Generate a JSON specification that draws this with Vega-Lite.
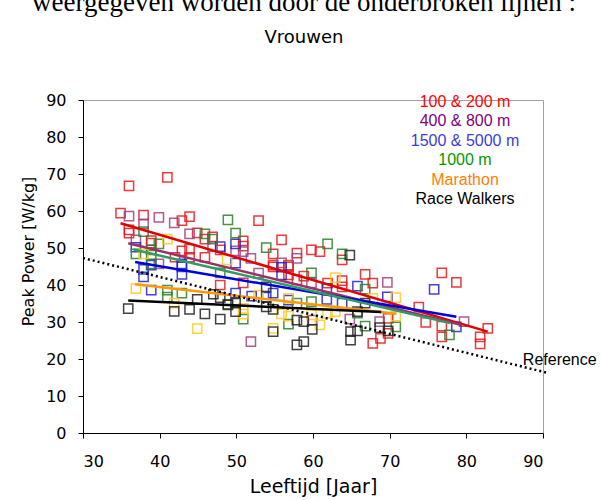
{
  "$schema": "https://vega.github.io/schema/vega-lite/v6.json",
  "width": 460,
  "height": 333,
  "autosize": {"type": "none"},
  "padding": {"left": 83, "top": 100, "right": 58, "bottom": 67},
  "background": "white",
  "title": {
    "text": "weergegeven worden door de onderbroken lijnen :",
    "subtitle": "Vrouwen",
    "anchor": "middle",
    "frame": "group",
    "offset": 44,
    "dx": -9,
    "font": "Liberation Serif",
    "fontSize": 27,
    "fontWeight": "normal",
    "color": "#000000",
    "subtitleFont": "DejaVu Sans",
    "subtitleFontSize": 18,
    "subtitleColor": "#000000",
    "subtitlePadding": 12
  },
  "config": {
    "title": {"color": "#000000", "subtitleColor": "#000000"},
    "view": {"stroke": "#A0A0A0", "strokeWidth": 1},
    "axis": {
      "grid": false,
      "domainColor": "black",
      "tickColor": "black",
      "tickSize": 5,
      "labelFont": "DejaVu Sans",
      "labelFontSize": 16,
      "labelColor": "black",
      "labelOverlap": false,
      "titleFont": "DejaVu Sans",
      "titleFontSize": 16,
      "titleFontWeight": "normal",
      "titleColor": "black"
    }
  },
  "datasets": {
    "points": [
      {"group":"100 & 200 m","age":41.0,"power":69.1},{"group":"100 & 200 m","age":36.0,"power":66.8},{"group":"100 & 200 m","age":34.9,"power":59.4},{"group":"100 & 200 m","age":37.9,"power":58.9},{"group":"100 & 200 m","age":42.9,"power":57.4},{"group":"100 & 200 m","age":43.9,"power":58.5},{"group":"100 & 200 m","age":36.0,"power":54.9},{"group":"100 & 200 m","age":36.0,"power":54.0},{"group":"100 & 200 m","age":44.9,"power":54.1},{"group":"100 & 200 m","age":45.9,"power":52.4},{"group":"100 & 200 m","age":46.9,"power":53.0},{"group":"100 & 200 m","age":38.9,"power":52.0},{"group":"100 & 200 m","age":38.9,"power":51.3},{"group":"100 & 200 m","age":47.9,"power":49.5},{"group":"100 & 200 m","age":42.9,"power":49.2},{"group":"100 & 200 m","age":43.9,"power":49.7},{"group":"100 & 200 m","age":42.0,"power":47.5},{"group":"100 & 200 m","age":43.9,"power":47.5},{"group":"100 & 200 m","age":45.9,"power":47.5},{"group":"100 & 200 m","age":52.9,"power":57.4},{"group":"100 & 200 m","age":50.9,"power":51.9},{"group":"100 & 200 m","age":50.9,"power":50.5},{"group":"100 & 200 m","age":55.9,"power":52.2},{"group":"100 & 200 m","age":54.8,"power":48.4},{"group":"100 & 200 m","age":57.9,"power":48.6},{"group":"100 & 200 m","age":59.8,"power":49.5},{"group":"100 & 200 m","age":60.9,"power":49.0},{"group":"100 & 200 m","age":63.8,"power":46.8},{"group":"100 & 200 m","age":56.8,"power":45.4},{"group":"100 & 200 m","age":54.8,"power":45.4},{"group":"100 & 200 m","age":54.8,"power":44.9},{"group":"100 & 200 m","age":56.8,"power":44.9},{"group":"100 & 200 m","age":56.8,"power":42.7},{"group":"100 & 200 m","age":57.9,"power":41.4},{"group":"100 & 200 m","age":58.8,"power":42.4},{"group":"100 & 200 m","age":50.9,"power":40.6},{"group":"100 & 200 m","age":47.9,"power":40.0},{"group":"100 & 200 m","age":61.9,"power":40.5},{"group":"100 & 200 m","age":63.8,"power":41.2},{"group":"100 & 200 m","age":63.8,"power":39.5},{"group":"100 & 200 m","age":66.8,"power":42.9},{"group":"100 & 200 m","age":67.8,"power":40.5},{"group":"100 & 200 m","age":76.8,"power":43.3},{"group":"100 & 200 m","age":78.7,"power":40.7},{"group":"100 & 200 m","age":73.8,"power":34.0},{"group":"100 & 200 m","age":74.7,"power":29.9},{"group":"100 & 200 m","age":76.8,"power":28.9},{"group":"100 & 200 m","age":82.8,"power":28.3},{"group":"100 & 200 m","age":81.8,"power":26.0},{"group":"100 & 200 m","age":81.8,"power":24.1},{"group":"100 & 200 m","age":76.8,"power":26.0},{"group":"100 & 200 m","age":67.8,"power":24.2},{"group":"100 & 200 m","age":68.8,"power":25.6},{"group":"100 & 200 m","age":69.8,"power":31.0},{"group":"100 & 200 m","age":69.8,"power":26.9},
      {"group":"400 & 800 m","age":36.0,"power":58.6},{"group":"400 & 800 m","age":39.9,"power":58.3},{"group":"400 & 800 m","age":41.9,"power":56.8},{"group":"400 & 800 m","age":37.9,"power":56.5},{"group":"400 & 800 m","age":43.9,"power":53.8},{"group":"400 & 800 m","age":36.9,"power":52.2},{"group":"400 & 800 m","age":46.9,"power":50.4},{"group":"400 & 800 m","age":39.9,"power":45.7},{"group":"400 & 800 m","age":49.9,"power":49.2},{"group":"400 & 800 m","age":50.9,"power":49.0},{"group":"400 & 800 m","age":51.9,"power":47.2},{"group":"400 & 800 m","age":55.9,"power":46.0},{"group":"400 & 800 m","age":57.9,"power":47.2},{"group":"400 & 800 m","age":52.9,"power":43.2},{"group":"400 & 800 m","age":59.8,"power":40.6},{"group":"400 & 800 m","age":69.7,"power":40.7},{"group":"400 & 800 m","age":64.8,"power":30.8},{"group":"400 & 800 m","age":68.7,"power":30.1},{"group":"400 & 800 m","age":79.7,"power":30.1},{"group":"400 & 800 m","age":59.9,"power":30.5},{"group":"400 & 800 m","age":51.9,"power":24.7},
      {"group":"1500 & 5000 m","age":47.9,"power":50.4},{"group":"1500 & 5000 m","age":36.9,"power":50.2},{"group":"1500 & 5000 m","age":42.9,"power":45.7},{"group":"1500 & 5000 m","age":49.9,"power":51.1},{"group":"1500 & 5000 m","age":49.9,"power":45.9},{"group":"1500 & 5000 m","age":38.9,"power":45.4},{"group":"1500 & 5000 m","age":37.9,"power":44.2},{"group":"1500 & 5000 m","age":37.9,"power":42.2},{"group":"1500 & 5000 m","age":42.9,"power":44.9},{"group":"1500 & 5000 m","age":42.9,"power":42.9},{"group":"1500 & 5000 m","age":38.9,"power":38.6},{"group":"1500 & 5000 m","age":55.9,"power":44.8},{"group":"1500 & 5000 m","age":55.9,"power":42.7},{"group":"1500 & 5000 m","age":49.9,"power":37.8},{"group":"1500 & 5000 m","age":52.0,"power":37.0},{"group":"1500 & 5000 m","age":53.9,"power":36.7},{"group":"1500 & 5000 m","age":54.8,"power":37.8},{"group":"1500 & 5000 m","age":56.8,"power":35.9},{"group":"1500 & 5000 m","age":61.8,"power":39.1},{"group":"1500 & 5000 m","age":61.8,"power":36.1},{"group":"1500 & 5000 m","age":63.8,"power":35.1},{"group":"1500 & 5000 m","age":65.8,"power":39.7},{"group":"1500 & 5000 m","age":69.7,"power":36.8},{"group":"1500 & 5000 m","age":75.8,"power":38.8},{"group":"1500 & 5000 m","age":78.7,"power":28.7},
      {"group":"1000 m","age":48.9,"power":57.6},{"group":"1000 m","age":37.9,"power":54.4},{"group":"1000 m","age":45.9,"power":53.8},{"group":"1000 m","age":46.9,"power":52.4},{"group":"1000 m","age":39.9,"power":51.1},{"group":"1000 m","age":38.9,"power":49.5},{"group":"1000 m","age":36.9,"power":48.4},{"group":"1000 m","age":38.9,"power":48.1},{"group":"1000 m","age":38.9,"power":45.7},{"group":"1000 m","age":49.9,"power":54.0},{"group":"1000 m","age":53.9,"power":50.1},{"group":"1000 m","age":61.9,"power":51.1},{"group":"1000 m","age":63.8,"power":48.4},{"group":"1000 m","age":59.8,"power":43.3},{"group":"1000 m","age":47.9,"power":43.3},{"group":"1000 m","age":41.0,"power":38.6},{"group":"1000 m","age":41.0,"power":36.7},{"group":"1000 m","age":42.9,"power":37.8},{"group":"1000 m","age":48.9,"power":34.8},{"group":"1000 m","age":50.9,"power":30.8},{"group":"1000 m","age":56.8,"power":29.4},{"group":"1000 m","age":57.9,"power":35.1},{"group":"1000 m","age":59.8,"power":35.5},{"group":"1000 m","age":66.8,"power":38.9},{"group":"1000 m","age":66.8,"power":28.9},{"group":"1000 m","age":70.8,"power":28.7},{"group":"1000 m","age":77.8,"power":26.5},{"group":"1000 m","age":65.8,"power":32.4},
      {"group":"Marathon","age":41.0,"power":52.4},{"group":"Marathon","age":37.9,"power":48.4},{"group":"Marathon","age":48.8,"power":46.8},{"group":"Marathon","age":36.9,"power":39.0},{"group":"Marathon","age":41.9,"power":35.1},{"group":"Marathon","age":44.9,"power":28.2},{"group":"Marathon","age":52.9,"power":37.3},{"group":"Marathon","age":50.9,"power":33.7},{"group":"Marathon","age":50.9,"power":32.1},{"group":"Marathon","age":56.8,"power":36.4},{"group":"Marathon","age":55.9,"power":32.2},{"group":"Marathon","age":56.8,"power":31.6},{"group":"Marathon","age":54.8,"power":28.3},{"group":"Marathon","age":60.9,"power":29.2},{"group":"Marathon","age":61.9,"power":32.4},{"group":"Marathon","age":62.9,"power":32.8},{"group":"Marathon","age":62.9,"power":42.0},{"group":"Marathon","age":59.8,"power":31.9},{"group":"Marathon","age":67.8,"power":36.4},{"group":"Marathon","age":70.8,"power":36.6},{"group":"Marathon","age":70.8,"power":31.6},
      {"group":"Race Walkers","age":35.9,"power":33.6},{"group":"Race Walkers","age":41.9,"power":32.9},{"group":"Race Walkers","age":43.9,"power":33.4},{"group":"Race Walkers","age":45.9,"power":32.2},{"group":"Race Walkers","age":47.9,"power":30.8},{"group":"Race Walkers","age":44.9,"power":36.1},{"group":"Race Walkers","age":47.0,"power":37.5},{"group":"Race Walkers","age":47.9,"power":36.6},{"group":"Race Walkers","age":49.9,"power":35.1},{"group":"Race Walkers","age":48.9,"power":34.6},{"group":"Race Walkers","age":49.9,"power":32.8},{"group":"Race Walkers","age":53.9,"power":39.5},{"group":"Race Walkers","age":53.9,"power":34.1},{"group":"Race Walkers","age":54.8,"power":33.4},{"group":"Race Walkers","age":54.8,"power":27.4},{"group":"Race Walkers","age":57.9,"power":30.5},{"group":"Race Walkers","age":58.8,"power":30.1},{"group":"Race Walkers","age":59.9,"power":28.0},{"group":"Race Walkers","age":57.9,"power":23.8},{"group":"Race Walkers","age":58.8,"power":24.7},{"group":"Race Walkers","age":64.9,"power":27.4},{"group":"Race Walkers","age":64.9,"power":25.1},{"group":"Race Walkers","age":64.8,"power":48.1},{"group":"Race Walkers","age":66.8,"power":35.1},{"group":"Race Walkers","age":65.8,"power":32.8},{"group":"Race Walkers","age":65.8,"power":27.6},{"group":"Race Walkers","age":68.7,"power":28.5},{"group":"Race Walkers","age":69.8,"power":27.6}
    ],
    "fits": [
      {"series":"100 & 200 m","age":34.9,"power":56.7},{"series":"100 & 200 m","age":82.8,"power":27.4},
      {"series":"400 & 800 m","age":35.9,"power":51.3},{"series":"400 & 800 m","age":79.4,"power":29.2},
      {"series":"1500 & 5000 m","age":36.8,"power":46.2},{"series":"1500 & 5000 m","age":78.7,"power":31.4},
      {"series":"1000 m","age":36.6,"power":49.6},{"series":"1000 m","age":77.9,"power":29.7},
      {"series":"Marathon","age":36.8,"power":40.2},{"series":"Marathon","age":70.9,"power":32.2},
      {"series":"Race Walkers","age":35.9,"power":35.8},{"series":"Race Walkers","age":68.9,"power":32.7}
    ],
    "reference": [
      {"age":30,"power":47.3,"label":""},
      {"age":90.5,"power":16.3,"label":"Reference"}
    ]
  },
  "layer": [
    {
      "data": {"name": "points"},
      "mark": {"type": "square", "filled": false, "size": 85, "strokeWidth": 1.5, "opacity": 0.85},
      "encoding": {
        "x": {"field": "age", "type": "quantitative", "scale": {"domain": [30, 90], "nice": false, "zero": false},
              "axis": {"values": [30,40,50,60,70,80,90], "tickCount": 7, "title": "Leeftijd [Jaar]", "labelPadding": 15, "titlePadding": 8, "titleFontSize": 19, "labelOverlap": false}},
        "y": {"field": "power", "type": "quantitative", "scale": {"domain": [0, 90], "nice": false},
              "axis": {"values": [0,10,20,30,40,50,60,70,80,90], "tickCount": 10, "title": "Peak Power [W/kg]", "labelPadding": 12, "titlePadding": 9, "titleY": 151, "labelOverlap": false, "labelBound": false, "labelFlush": false}},
        "color": {
          "field": "group", "type": "nominal",
          "scale": {"domain": ["100 & 200 m","400 & 800 m","1500 & 5000 m","1000 m","Marathon","Race Walkers"],
                    "range": ["#E41A1C","#A0427F","#2222CC","#2A7F2A","#FFC820","#222222"]},
          "legend": {
            "title": null, "orient": "none", "legendX": 366, "legendY": -6,
            "symbolSize": 0, "symbolStrokeWidth": 0, "symbolOpacity": 0,
            "labelFont": "Liberation Sans", "labelFontSize": 16, "labelAlign": "center", "labelOffset": 0,
            "rowPadding": 3.4, "padding": 0,
            "labelColor": {"expr": "datum.label == '100 & 200 m' ? '#FF0000' : datum.label == '400 & 800 m' ? '#800080' : datum.label == '1500 & 5000 m' ? '#3C3CD8' : datum.label == '1000 m' ? '#009900' : datum.label == 'Marathon' ? '#FF8000' : '#000000'"}
          }
        }
      }
    },
    {
      "data": {"name": "fits"},
      "mark": {"type": "line", "strokeWidth": 2.5},
      "encoding": {
        "x": {"field": "age", "type": "quantitative"},
        "y": {"field": "power", "type": "quantitative"},
        "stroke": {
          "field": "series", "type": "nominal",
          "scale": {"domain": ["100 & 200 m","400 & 800 m","1500 & 5000 m","1000 m","Marathon","Race Walkers"],
                    "range": ["#E00000","#993366","#0000DD","#339966","#FF9900","#000000"]},
          "legend": null
        }
      }
    },
    {
      "data": {"name": "reference"},
      "mark": {"type": "line", "strokeWidth": 2.5, "strokeDash": [2, 3], "color": "black"},
      "encoding": {
        "x": {"field": "age", "type": "quantitative"},
        "y": {"field": "power", "type": "quantitative"}
      }
    },
    {
      "data": {"name": "reference"},
      "transform": [{"filter": "datum.label != ''"}],
      "mark": {"type": "text", "align": "left", "baseline": "middle", "dx": -24, "dy": -13, "font": "Liberation Sans", "fontSize": 16, "color": "black"},
      "encoding": {
        "x": {"field": "age", "type": "quantitative"},
        "y": {"field": "power", "type": "quantitative"},
        "text": {"field": "label"}
      }
    }
  ],
  "resolve": {"scale": {"color": "independent", "stroke": "independent"}}
}
